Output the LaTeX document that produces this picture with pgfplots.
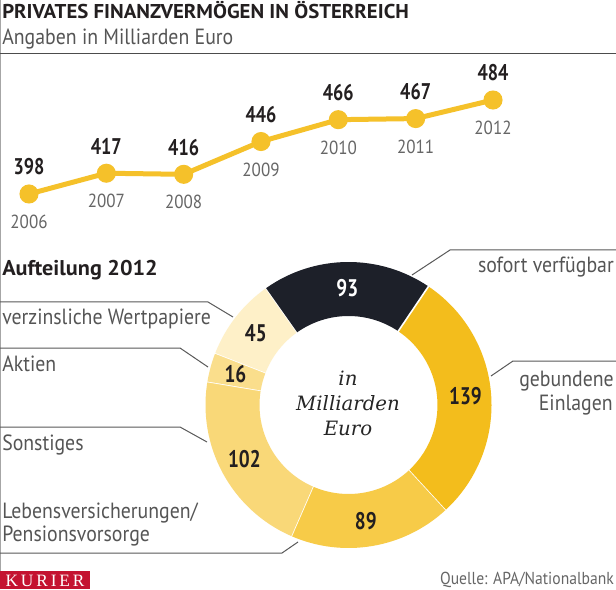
\documentclass[border=0pt]{standalone}
\usepackage{pgfplots}
\usepackage{pgfplotstable}
\pgfplotsset{compat=1.18}
\usepackage{fontspec}
\setmainfont{PT Sans}[FakeStretch=0.9]
\newfontfamily\bfam{PT Sans}[FakeStretch=1.04]
\newfontfamily\numfam{PT Sans}[FakeStretch=0.8]
\newfontfamily\serifit{DejaVu Serif}
\newfontfamily\kurierfont{Liberation Serif}
\definecolor{txt}{HTML}{231F20}
\definecolor{lbl}{HTML}{555555}
\definecolor{yr}{HTML}{666666}
\definecolor{lineY}{HTML}{F5C12A}
\definecolor{c139}{HTML}{F3BD1C}
\definecolor{c89}{HTML}{F7CB48}
\definecolor{c102}{HTML}{F9D878}
\definecolor{c16}{HTML}{FADE8C}
\definecolor{c45}{HTML}{FEF0C8}
\definecolor{cdark}{HTML}{1D2029}
\definecolor{kred}{HTML}{C41230}

\pgfplotstableread{
year value
2006 398
2007 417
2008 416
2009 446
2010 466
2011 467
2012 484
}\vermoegen

\begin{document}
\begin{tikzpicture}
\useasboundingbox (0pt,0pt) rectangle (462pt,441.75pt);
\fill[white] (0pt,0pt) rectangle (462pt,441.75pt);
\clip (0pt,0pt) rectangle (462pt,441.75pt);

\begin{scope}[x=0.75pt,y=0.75pt]
% frame lines
\draw[gray!70, line width=0.9pt] (0.8,0) -- (0.8,589);
\draw[black!70, line width=0.9pt] (0,535.5) -- (616,535.5);

% titles
\node[anchor=base west, inner sep=0pt, text=txt, font=\bfam\bfseries\fontsize{15}{18}\selectfont] at (2,570) {PRIVATES FINANZVERMÖGEN IN ÖSTERREICH};
\node[anchor=base west, inner sep=0pt, text=lbl, font=\fontsize{16.5}{19}\selectfont] at (2,544) {Angaben in Milliarden Euro};

\node[anchor=base west, inner sep=0pt, text=txt, font=\bfam\bfseries\fontsize{16}{19}\selectfont] at (2,313) {Aufteilung 2012};

% leader lines
\begin{scope}[draw=black!65, line width=0.75pt]
\draw (0,287) -- (208,287) -- (233,272);
\draw (0,241) -- (180,241) -- (208,222);
\draw (0,162) -- (180,162) -- (207,147);
\draw (0,36) -- (282,36) -- (298,47);
\draw (616,339) -- (450,339) -- (412,314);
\draw (616,228) -- (513,228) -- (491,213);
\end{scope}

% labels
\begin{scope}[every node/.style={inner sep=0pt, text=lbl, font=\fontsize{16.5}{19}\selectfont}]
\node[anchor=base west] at (2,264) {verzinsliche Wertpapiere};
\node[anchor=base west] at (2,217.5) {Aktien};
\node[anchor=base west] at (2,139) {Sonstiges};
\node[anchor=base west] at (2,71) {Lebensversicherungen/};
\node[anchor=base west] at (2,47.5) {Pensionsvorsorge};
\node[anchor=base east] at (614,316) {sofort verfügbar};
\node[anchor=base east] at (614,202.5) {gebundene};
\node[anchor=base east] at (613,179) {Einlagen};
\end{scope}

% footer
\fill[kred] (0,0) rectangle (90,18);
\node[anchor=base, inner sep=0pt, text=white, font=\kurierfont\fontsize{13}{15}\selectfont] at (45,3) {K\,U\,R\,I\,E\,R};
\node[anchor=base east, inner sep=0pt, text=yr, font=\fontsize{13}{15}\selectfont] at (614,5) {Quelle: APA/Nationalbank};
\end{scope}

% line chart
\begin{axis}[at={(21.75pt,296.25pt)}, anchor=south west, scale only axis,
  width=348pt, height=70.5pt, xmin=2006, xmax=2012, ymin=398, ymax=484,
  axis lines=none, clip=false]
\addplot[line width=3.75pt, color=lineY, mark=*, mark size=5.25pt,
  nodes near coords, nodes near coords align=center, point meta=explicit symbolic,
  every node near coord/.style={inner sep=0pt, yshift=20.25pt, text=txt, font=\numfam\bfseries\fontsize{17}{20}\selectfont}]
  table[x=year, y=value, meta=value] {\vermoegen};
\addplot[draw=none, mark=none,
  nodes near coords, nodes near coords align=center, point meta=explicit symbolic,
  every node near coord/.style={inner sep=0pt, yshift=-21pt, text=yr, font=\fontsize{14.2}{17}\selectfont}]
  table[x=year, y=value, meta=year] {\vermoegen};
\end{axis}

% donut
\begin{axis}[at={(154.125pt,30.75pt)}, anchor=south west, scale only axis,
  width=214.5pt, height=214.5pt, xmin=-143, xmax=143, ymin=-143, ymax=143,
  axis lines=none, clip=false]
\addplot[draw=none] coordinates {(0,0)};
\gdef\acc{56}
\foreach \v/\c in {139/c139, 89/c89, 102/c102, 16/c16, 45/c45, 93/cdark}{
  \pgfmathsetmacro{\a}{\acc}
  \pgfmathsetmacro{\b}{\acc-\v/484*360}
  \edef\temp{\noexpand\fill[\c, shift={(axis cs:0,0)}] (\a:107.25pt) arc[start angle=\a, end angle=\b, radius=107.25pt] -- (\b:66.75pt) arc[start angle=\b, end angle=\a, radius=66.75pt] -- cycle;
    \noexpand\draw[white, line width=1.2pt, shift={(axis cs:0,0)}] (\b:66pt) -- (\b:108pt);
  }
  \temp
  \xdef\acc{\b}
}
\foreach \v/\ang/\tc in {139/4.3/txt, 89/-81.5/txt, 102/-152.6/txt, 16/164.6/txt, 45/142.2/txt, 93/90.6/white}{
  \edef\temp{\noexpand\node[shift={(axis cs:0,0)}, text=\tc, inner sep=0pt, font=\noexpand\numfam\noexpand\bfseries\noexpand\fontsize{18}{21}\noexpand\selectfont] at (\ang:88pt) {\v};}
  \temp
}
\end{axis}

% center text
\begin{scope}[x=0.75pt,y=0.75pt, every node/.style={text=black!85, font=\serifit\itshape\fontsize{14.8}{17}\selectfont}]
\node at (348,211) {in};
\node at (348,186) {Milliarden};
\node at (348,161) {Euro};
\end{scope}
\end{tikzpicture}
\end{document}
